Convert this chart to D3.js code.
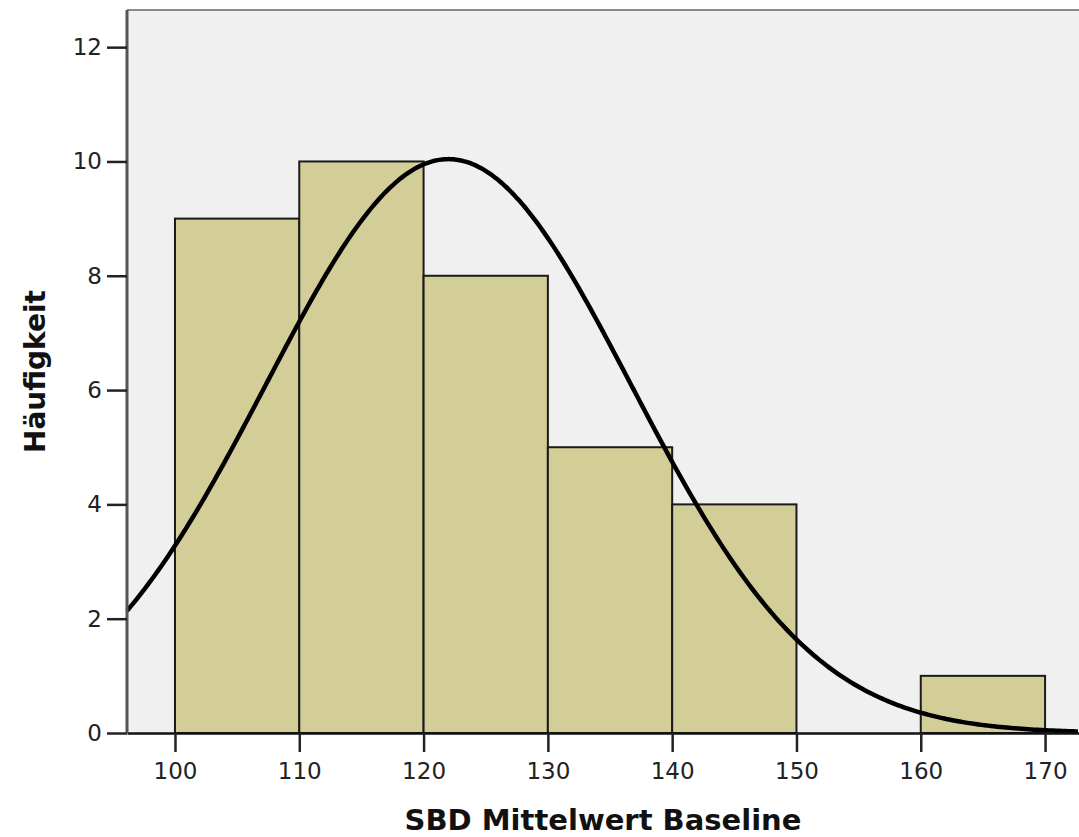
<!DOCTYPE html>
<html>
<head>
<meta charset="utf-8">
<script src="https://cdn.jsdelivr.net/npm/d3@7"></script>
<style>
  body { margin: 0; background: #fff; }
  text { font-family: "DejaVu Sans", Verdana, sans-serif; }
</style>
</head>
<body>
<svg></svg>
<script>
var binStarts = [100, 110, 120, 130, 140, 160]
var binWidth = 10
var counts = [9, 10, 8, 5, 4, 1]
var xTicks = [100, 110, 120, 130, 140, 150, 160, 170]
var yTicks = [0, 2, 4, 6, 8, 10, 12]

// parameters of the fitted normal curve
var curveMean = 122
var curveSd = 14.7
var curveN = 37

var margins = {"left": 127, "top": 10, "right": 0, "bottom": 104}
var width = 1079 - margins.left - margins.right
var height = 837 - margins.top - margins.bottom

var svg = d3.select("svg")
  .attr("width", 1079)
  .attr("height", 837)

var g = svg.append("g")
  .attr("transform", "translate(" + margins.left + "," + margins.top + ")")

var xScale = d3.scaleLinear()
  .domain([96.14, 172.73])
  .range([0, width])

var yScale = d3.scaleLinear()
  .domain([0, 12.65])
  .range([height, 0])

g.append("rect")
  .attr("width", width)
  .attr("height", height)
  .attr("fill", "#f0f0f0")

g.append("line")
  .attr("x1", 0).attr("x2", width)
  .attr("y1", 0).attr("y2", 0)
  .attr("stroke", "#8a8a8a")
  .attr("stroke-width", 2)

g.selectAll(".bar")
  .data(binStarts)
  .enter()
  .append("rect")
  .attr("class", "bar")
  .attr("x", function(d){ return xScale(d) })
  .attr("width", function(d){ return xScale(d + binWidth) - xScale(d) })
  .attr("y", function(d, i){ return yScale(counts[i]) })
  .attr("height", function(d, i){ return yScale(0) - yScale(counts[i]) })
  .attr("fill", "#d3ce97")
  .attr("stroke", "#1a1a1a")
  .attr("stroke-width", 2)

var curveXs = d3.range(96.14, 172.8, 0.25)
var line = d3.line()
  .x(function(d){ return xScale(d) })
  .y(function(d){
    var z = (d - curveMean) / curveSd
    return yScale(curveN * binWidth / (curveSd * Math.sqrt(2 * Math.PI)) * Math.exp(-0.5 * z * z))
  })
  .curve(d3.curveBasis)

g.append("path")
  .datum(curveXs)
  .attr("d", line)
  .attr("fill", "none")
  .attr("stroke", "#000")
  .attr("stroke-width", 4.5)

var xAxis = g.append("g")
  .attr("transform", "translate(0," + height + ")")
  .call(d3.axisBottom(xScale).tickValues(xTicks).tickSize(19).tickPadding(11).tickSizeOuter(0))
xAxis.select(".domain").attr("stroke", "#111").attr("stroke-width", 2.5)
xAxis.selectAll(".tick line").attr("stroke", "#222").attr("stroke-width", 2.5)
xAxis.selectAll("text").attr("font-size", "23px").attr("fill", "#222")
  .style("font-family", "'DejaVu Sans', Verdana, sans-serif")

var yAxis = g.append("g")
  .call(d3.axisLeft(yScale).tickValues(yTicks).tickSize(20).tickPadding(5))
yAxis.select(".domain").attr("stroke", "#555").attr("stroke-width", 3)
  .attr("d", "M0," + height + "V0")
yAxis.selectAll(".tick line").attr("stroke", "#222").attr("stroke-width", 2.5)
yAxis.selectAll("text").attr("font-size", "23px").attr("fill", "#222")
  .style("font-family", "'DejaVu Sans', Verdana, sans-serif")

svg.append("text")
  .attr("x", margins.left + width / 2)
  .attr("y", 830)
  .attr("text-anchor", "middle")
  .attr("font-size", "29px")
  .attr("font-weight", "bold")
  .attr("fill", "#111")
  .text("SBD Mittelwert Baseline")

svg.append("text")
  .attr("transform", "translate(45," + (margins.top + height / 2) + ") rotate(-90)")
  .attr("text-anchor", "middle")
  .attr("font-size", "28px")
  .attr("font-weight", "bold")
  .attr("fill", "#111")
  .text("Häufigkeit")
</script>
</body>
</html>
